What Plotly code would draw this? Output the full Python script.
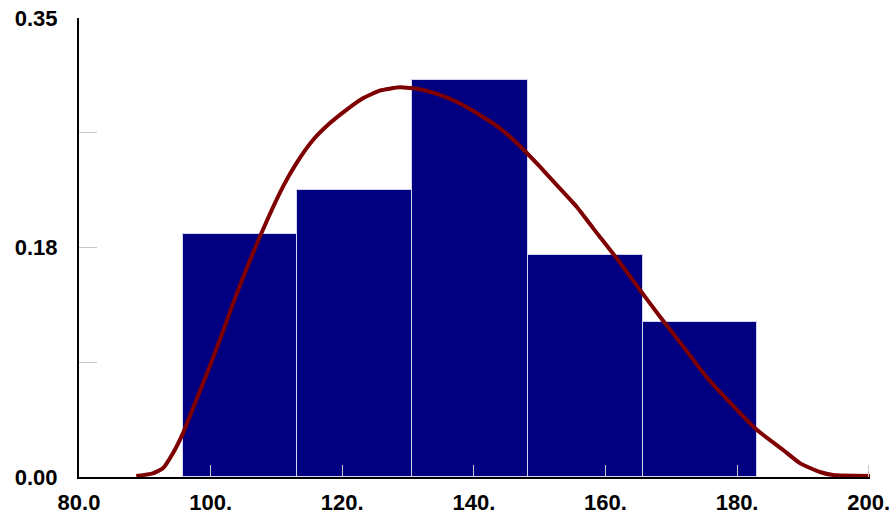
import numpy as np
import plotly.graph_objects as go

# histogram bins (relative frequency)
bin_edges = [95.74, 113.08, 130.57, 148.2, 165.7, 183.0]
freqs = [0.185, 0.219, 0.303, 0.169, 0.118]

# smooth density-like curve
curve_x = [88.70, 91.22, 92.75, 94.27, 95.79, 97.83, 99.85, 101.87, 103.91, 107.47,
           111.00, 113.03, 115.56, 118.10, 120.64, 123.16, 125.70, 128.75, 131.79,
           134.83, 137.87, 140.91, 143.96, 147.00, 150.04, 152.58, 155.62, 158.14,
           161.70, 165.25, 168.29, 171.83, 175.39, 177.0, 183.04, 187.0, 189.6,
           192.6, 194.6, 200.2]
curve_y = [0.0008, 0.0028, 0.0066, 0.0181, 0.0333, 0.0587, 0.0841, 0.1110, 0.1390, 0.1830,
           0.2214, 0.2392, 0.2570, 0.2697, 0.2800, 0.2888, 0.2946, 0.2971, 0.2956,
           0.2913, 0.2849, 0.2760, 0.2659, 0.2524, 0.2366, 0.2227, 0.2061, 0.1896,
           0.1668, 0.1426, 0.1222, 0.0994, 0.0760, 0.0670, 0.0358, 0.0206, 0.0104,
           0.0038, 0.0015, 0.0008]

x_ticks = [80, 100, 120, 140, 160, 180, 200]
x_labels = ["80.0", "100.", "120.", "140.", "160.", "180.", "200."]
y_ticks = [0, 0.0875, 0.175, 0.2625, 0.35]
y_labels = ["0.00", "", "0.18", "", "0.35"]

edges = np.array(bin_edges)
centers = (edges[:-1] + edges[1:]) / 2
widths = np.diff(edges)

fig = go.Figure()
fig.add_trace(go.Bar(
    x=centers, y=freqs, width=widths,
    marker=dict(color="#000080", line=dict(color="#d4d4f0", width=1)),
    showlegend=False
))
fig.add_trace(go.Scatter(
    x=curve_x, y=curve_y, mode="lines",
    line=dict(color="#7f0000", width=4, shape="spline", smoothing=0.5),
    showlegend=False
))

tick_font = dict(family="Liberation Sans, Arial, sans-serif", size=22, color="black", weight="bold")
fig.update_layout(
    width=892, height=517,
    margin=dict(l=79, r=22, t=18, b=40),
    plot_bgcolor="white", paper_bgcolor="white",
    bargap=0,
    xaxis=dict(
        range=[80, 200.2], tickvals=x_ticks, ticktext=x_labels,
        ticks="inside", ticklen=12, tickcolor="#c8c8c8", tickwidth=1,
        showline=True, linecolor="black", linewidth=2,
        showgrid=False, zeroline=False, automargin=False,
        tickfont=tick_font, ticklabelstandoff=5,
    ),
    yaxis=dict(
        range=[0, 0.35], tickvals=y_ticks, ticktext=y_labels,
        ticks="inside", ticklen=18, tickcolor="#c8c8c8", tickwidth=1,
        showline=True, linecolor="black", linewidth=2,
        showgrid=False, zeroline=False, automargin=False,
        tickfont=tick_font, ticklabelstandoff=15,
    ),
)

# remove the page's default body margin so the figure sits at the top-left corner
fig.write_html("out.html", config={"displayModeBar": False},
               post_script="document.body.style.margin='0';")
